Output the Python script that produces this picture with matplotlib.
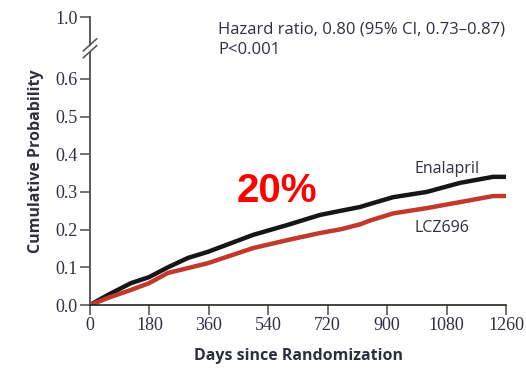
import numpy as np
import matplotlib
matplotlib.use('Agg')
import matplotlib.pyplot as plt

# Kaplan-Meier style cumulative probability curves
days = [0, 55, 124, 179, 236, 297, 357, 412, 494, 597, 697, 760, 818, 848, 918, 1020, 1121, 1221, 1260]
enalapril = [0, 0.027, 0.058, 0.074, 0.100, 0.125, 0.141, 0.159, 0.186, 0.212, 0.239, 0.250,
             0.260, 0.268, 0.286, 0.300, 0.324, 0.340, 0.340]
lcz696 = [0, 0.019, 0.040, 0.058, 0.085, 0.098, 0.111, 0.127, 0.151, 0.172, 0.191, 0.201,
          0.214, 0.224, 0.243, 0.257, 0.273, 0.289, 0.289]

xticks = [0, 180, 360, 540, 720, 900, 1080, 1260]
yticks = [0.0, 0.1, 0.2, 0.3, 0.4, 0.5, 0.6]
ytop = 0.764  # position of the 1.0 tick above the axis break

txt = '#2e3040'
axcol = '#5a5a5a'

fig = plt.figure(figsize=(5.26, 3.70), dpi=100)
ax = fig.add_axes([90/526, 65/370, 416/526, 288/370])

ax.plot(days, enalapril, color='#161616', lw=3.2, solid_capstyle='butt')
ax.plot(days, lcz696, color='#c0392b', lw=3.2, solid_capstyle='butt')

ax.set_xlim(0, 1260)
ax.set_ylim(0, ytop)
ax.set_xticks(xticks)
ax.set_xticklabels([str(t) for t in xticks], family='Liberation Serif', fontsize=13, color=txt)
ax.set_yticks(yticks + [ytop])
ax.set_yticklabels(['%.1f' % t for t in yticks] + ['1.0'], family='Liberation Serif', fontsize=13, color=txt)
ax.tick_params(axis='both', direction='out', length=7, width=1.2, color=axcol, pad=2)

for s in ['top', 'right', 'left']:
    ax.spines[s].set_visible(False)
ax.spines['bottom'].set_color('#222222')
ax.spines['bottom'].set_linewidth(1.2)

# left spine drawn in two pieces with a break
brk_lo, brk_hi = 0.672, 0.690
trans = ax.get_yaxis_transform()
ax.plot([0, 0], [0, brk_lo], color=axcol, lw=1.4, transform=trans, clip_on=False)
ax.plot([0, 0], [brk_hi, ytop], color=axcol, lw=1.4, transform=trans, clip_on=False)
dx, dy = 0.016, 0.016
for yb in (brk_lo, brk_hi):
    ax.plot([-dx, dx], [yb - dy, yb + dy], color=axcol, lw=1.2, transform=trans, clip_on=False)

ax.set_xlabel('Days since Randomization', family='Open Sans', fontweight='bold', fontsize=11.5,
              color=txt, labelpad=10)
ax.set_ylabel('Cumulative Probability', family='Open Sans', fontweight='bold', fontsize=11.5,
              color=txt, labelpad=8)

fig.text(218/526, 1 - 30/370, 'Hazard ratio, 0.80 (95% CI, 0.73\u20130.87)', family='Open Sans',
         fontsize=12, color=txt, va='center', ha='left')
fig.text(218/526, 1 - 50/370, 'P<0.001', family='Open Sans', fontsize=12, color=txt,
         va='center', ha='left')

ax.text(984, 0.362, 'Enalapril', family='Open Sans', fontsize=11.5, color=txt, ha='left', va='center')
ax.text(984, 0.205, 'LCZ696', family='Open Sans', fontsize=11.5, color=txt, ha='left', va='center')

ax.text(565, 0.303, '20%', family='Liberation Sans', fontweight='bold', fontsize=29,
        color='#ff0000', ha='center', va='center')

fig.savefig('out.png', dpi=100)
